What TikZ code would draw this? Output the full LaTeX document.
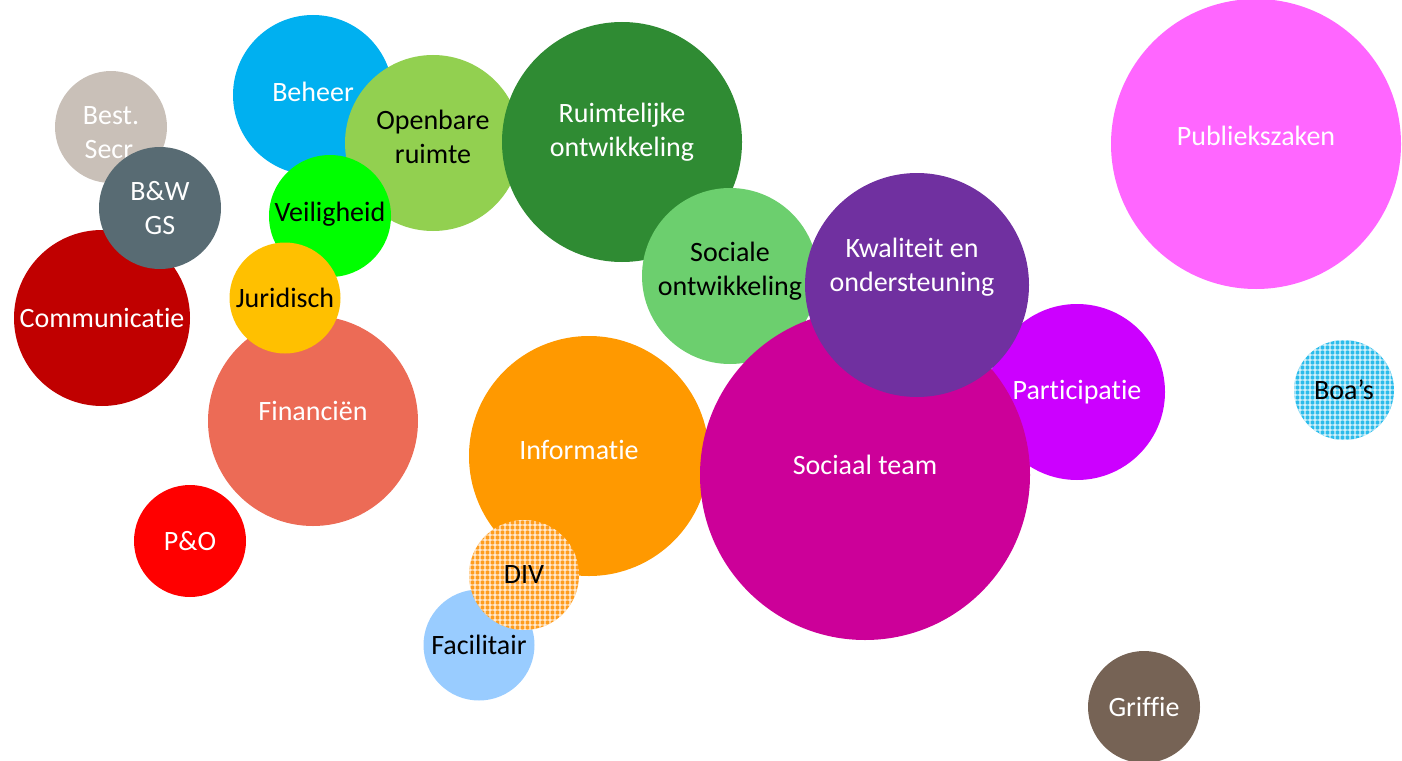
\documentclass[tikz,border=0pt]{standalone}
\usepackage{fontspec}
\setmainfont{Carlito}[Ligatures=NoCommon]
\usetikzlibrary{positioning,patterns,patterns.meta}

\definecolor{cBeheer}{HTML}{00B0F0}
\definecolor{cOpenbaar}{HTML}{92D050}
\definecolor{cRuimte}{HTML}{2F8B33}
\definecolor{cSecr}{HTML}{C9C0B8}
\definecolor{cBW}{HTML}{586B73}
\definecolor{cComm}{HTML}{C00000}
\definecolor{cVeilig}{HTML}{00FF00}
\definecolor{cJur}{HTML}{FFC000}
\definecolor{cFin}{HTML}{EC6B56}
\definecolor{cPO}{HTML}{FF0000}
\definecolor{cInfo}{HTML}{FF9900}
\definecolor{cDIV}{HTML}{FF9D1E}
\definecolor{cFac}{HTML}{99CCFF}
\definecolor{cSociaal}{HTML}{6CCF6E}
\definecolor{cKwal}{HTML}{7030A0}
\definecolor{cTeam}{HTML}{CC0099}
\definecolor{cPart}{HTML}{CC00FF}
\definecolor{cPubl}{HTML}{FF66FF}
\definecolor{cBoa}{HTML}{2BBCEB}
\definecolor{cGriffie}{HTML}{766355}

\tikzset{
  bubble/.style={circle, inner sep=0pt, minimum size=#1},
  txt/.style={inner sep=0pt, align=center, font=\fontsize{28}{34}\selectfont},
  grid fill/.style={
    postaction={pattern={Lines[distance=5pt, line width=1.3pt]}, pattern color=white!100, opacity=0.55},
    postaction={pattern={Lines[angle=90, distance=5pt, line width=1.3pt]}, pattern color=white, opacity=0.55}}
}

\begin{document}
\begin{tikzpicture}[x=1pt,y=-1pt]
            \useasboundingbox (0,0) rectangle (1402,760);

            % left column
            \node[bubble=112, fill=cSecr] (secr) at (111,127) {};
            \node[txt, text=white] (secr t) at ([yshift=-6]secr.center) {Best.\\Secr.};
            \node[bubble=176, fill=cComm] (comm) at (102,318) {};
            \node[txt, text=white] (comm t) at (comm.center) {Communicatie};
            \node[bubble=122, fill=cBW] (bw) at (160,208) {};
            \node[txt, text=white] (bw t) at (bw.center) {B\&W\\GS};
            \node[bubble=112, fill=cPO] (po) at (190,541) {};
            \node[txt, text=white] (po t) at (po.center) {P\&O};

            % beheer en ruimte
            \node[bubble=160, fill=cBeheer] (beheer) at (313,95) {};
            \node[txt, text=white] (beheer t) at ([yshift=3]beheer.center) {Beheer};
            \node[bubble=176, fill=cOpenbaar] (openbaar) at (433,143) {};
            \node[txt] (openbaar t) at ([yshift=6]openbaar.center) {Openbare\\ruimte};
            \node[bubble=240, fill=cRuimte] (ruimte) at (622,142) {};
            \node[txt, text=white] (ruimte t) at ([yshift=10]ruimte.center) {Ruimtelijke\\ontwikkeling};
            \node[bubble=122, fill=cVeilig] (veilig) at (330,216) {};
            \node[txt] (veilig t) at ([yshift=2]veilig.center) {Veiligheid};
            \node[bubble=210, fill=cFin] (fin) at (313,421) {};
            \node[txt, text=white] (fin t) at ([yshift=10]fin.center) {Financiën};
            \node[bubble=111, fill=cJur] (jur) at (285,298) {};
            \node[txt] (jur t) at (jur.center) {Juridisch};

            % informatie
            \node[bubble=240, fill=cInfo] (info) at (589,456) {};
            \node[txt, text=white] (info t) at ([xshift=-10,yshift=6]info.center) {Informatie};
            \node[bubble=111, fill=cFac] (fac) at (479,645) {};
            \node[txt] (fac t) at (fac.center) {Facilitair};
            \node[bubble=110, fill=cDIV, grid fill] (div) at (524,575) {};
            \node[txt] (div t) at (div.center) {DIV};

            % sociaal domein
            \node[bubble=176, fill=cSociaal] (sociaal) at (730,276) {};
            \node[txt] (sociaal t) at ([yshift=5]sociaal.center) {Sociale\\ontwikkeling};
            \node[bubble=176, fill=cPart] (part) at (1077,392) {};
            \node[txt, text=white] (part t) at (part.center) {Participatie};
            \node[bubble=330, fill=cTeam] (team) at (865,475) {};
            \node[txt, text=white] (team t) at ([yshift=10]team.center) {Sociaal team};
            \node[bubble=224, fill=cKwal] (kwal) at (917,285) {};
            \node[txt, text=white] (kwal t) at ([xshift=-5,yshift=18]kwal.center) {Kwaliteit en\\ondersteuning};

            % rechts
            \node[bubble=290, fill=cPubl] (publ) at (1256,144) {};
            \node[txt, text=white] (publ t) at ([yshift=8]publ.center) {Publiekszaken};
            \node[bubble=100, fill=cBoa, grid fill] (boa) at (1344,390) {};
            \node[txt] (boa t) at (boa.center) {Boa’s};
            \node[bubble=112, fill=cGriffie] (griffie) at (1144,707) {};
            \node[txt, text=white] (griffie t) at (griffie.center) {Griffie};
        \end{tikzpicture}
\end{document}
